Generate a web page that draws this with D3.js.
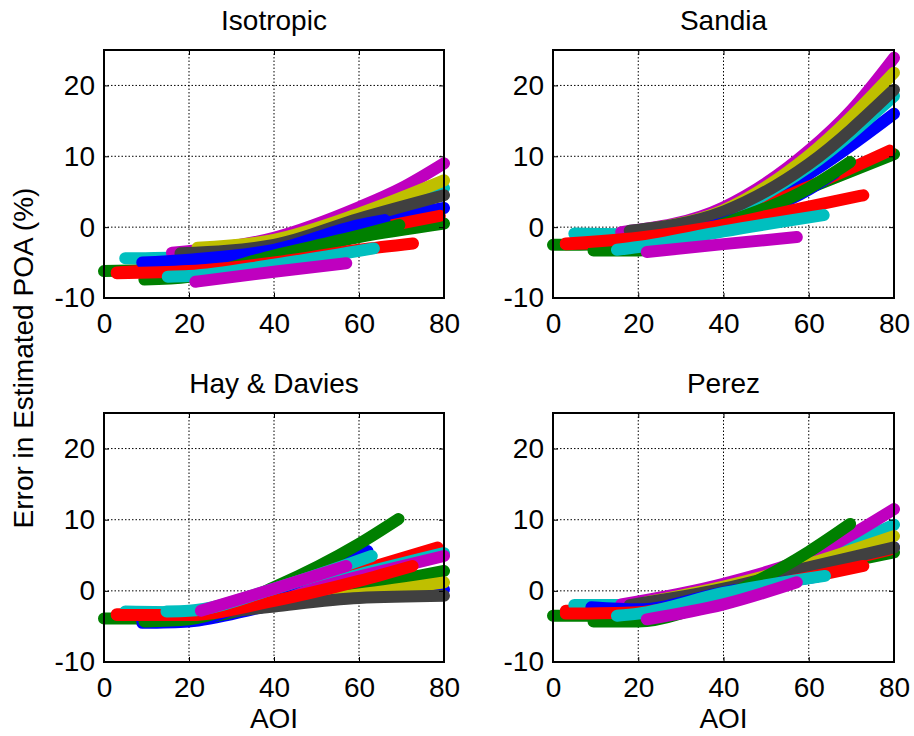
<!DOCTYPE html>
<html>
<head>
<meta charset="utf-8">
<script src="https://cdn.jsdelivr.net/npm/d3@7"></script>
<style>
  body { margin: 0; background: #fff; }
  text { font-family: "Liberation Sans", Arial, sans-serif; fill: #000; }
</style>
</head>
<body>
<svg id="chart"></svg>
<script>
const width = 914;
const height = 736;

// series colours (plot order), MATLAB-style colour cycle
const seriesColors = ['#0000ff', '#008000', '#ff0000', '#00bfbf', '#bf00bf', '#bfbf00', '#404040',
                      '#0000ff', '#008000', '#ff0000', '#00bfbf', '#bf00bf'];

const panelTitles = ['Isotropic', 'Sandia', 'Hay & Davies', 'Perez'];
const xTicks = [0, 20, 40, 60, 80];
const yTicks = [-10, 0, 10, 20];

// [AOI, error %] points, one array per series
const isotropic = [
  [[9, -5.0], [20, -4.6], [40, -3.2], [60, 0.3], [80, 2.7]],
  [[0, -6.2], [20, -5.8], [40, -4.0], [60, -1.4], [80, 0.5]],
  [[3, -6.4], [20, -5.6], [40, -3.6], [60, -0.7], [79, 1.6]],
  [[5, -4.4], [20, -4.2], [40, -2.6], [60, 1.5], [80, 5.5]],
  [[16, -3.6], [40, -1.5], [60, 2.8], [70, 5.5], [80, 9.0]],
  [[22, -2.9], [40, -1.8], [60, 1.9], [80, 6.6]],
  [[18, -3.7], [40, -2.5], [60, 1.2], [80, 4.5]],
  [[9, -5.0], [20, -4.6], [40, -3.2], [60, 0.3], [66, 1.0]],
  [[9.5, -7.4], [20, -7.0], [40, -4.0], [60, -1.2], [69.5, 0.3]],
  [[3, -6.5], [20, -6.2], [40, -5.0], [60, -3.2], [72.7, -2.3]],
  [[15, -7.0], [20, -6.9], [40, -5.3], [63.5, -3.0]],
  [[21.5, -7.7], [40, -6.3], [57, -5.1]]
];

const sandia = [
  [[9, -2.0], [20, -1.5], [40, 1.5], [60, 7.5], [80, 16.0]],
  [[0, -2.5], [20, -2.3], [40, 0.8], [60, 5.5], [80, 10.3]],
  [[3, -2.4], [20, -2.0], [40, 1.0], [60, 5.7], [79, 10.8]],
  [[5, -0.9], [20, -1.0], [40, 1.8], [60, 8.5], [80, 18.5]],
  [[16, -0.7], [40, 2.8], [60, 10.8], [70, 16.5], [80, 23.9]],
  [[22, -0.3], [40, 2.4], [60, 10.1], [80, 21.8]],
  [[18, -0.5], [40, 2.2], [60, 8.9], [80, 19.4]],
  [[9, -2.2], [20, -2.0], [40, 0.6], [60, 5.3], [66, 7.6]],
  [[9.5, -3.3], [20, -3.3], [40, 0.5], [60, 5.5], [69.7, 9.2]],
  [[3, -2.3], [20, -1.5], [40, 0.3], [60, 2.9], [72.8, 4.5]],
  [[15, -3.2], [20, -2.8], [40, -0.6], [63.5, 1.7]],
  [[22, -3.5], [40, -2.4], [57.2, -1.4]]
];

const hayDavies = [
  [[9, -4.5], [20, -4.3], [40, -2.0], [60, -0.7], [80, 0.2]],
  [[0, -3.9], [20, -3.9], [40, -1.6], [60, 0.5], [80, 2.8]],
  [[3, -3.3], [20, -3.3], [40, -1.0], [60, 2.8], [78.5, 6.1]],
  [[5, -2.9], [20, -3.0], [40, -1.0], [60, 2.3], [80, 5.3]],
  [[16, -3.2], [40, -1.1], [60, 2.0], [80, 4.9]],
  [[22, -3.3], [40, -1.8], [60, -0.5], [80, 1.2]],
  [[18, -3.8], [40, -2.2], [60, -1.0], [80, -0.7]],
  [[9, -4.3], [20, -4.2], [40, 0.0], [60, 5.0], [62, 5.6]],
  [[9.5, -4.3], [20, -4.0], [40, 0.5], [60, 6.6], [69.3, 10.1]],
  [[3, -3.4], [20, -3.4], [40, -1.4], [60, 1.4], [72.6, 3.5]],
  [[14.7, -2.9], [20, -2.8], [40, 0.3], [63, 4.9]],
  [[22.8, -2.8], [40, 0.3], [57, 3.5]]
];

const perez = [
  [[9, -3.0], [20, -2.4], [40, 0.2], [60, 3.2], [80, 6.1]],
  [[0, -3.5], [20, -3.5], [40, -0.5], [60, 2.8], [80, 5.4]],
  [[3, -2.8], [20, -2.8], [40, 0.0], [60, 3.0], [79, 5.8]],
  [[5, -2.0], [20, -2.0], [40, 0.5], [60, 4.2], [80, 9.3]],
  [[16, -1.9], [40, 1.0], [60, 4.8], [80, 11.5]],
  [[22, -1.6], [40, 0.6], [60, 3.8], [80, 7.7]],
  [[18, -2.0], [40, 0.3], [60, 3.3], [80, 6.1]],
  [[9, -2.3], [20, -2.6], [40, -0.2], [62, 2.0]],
  [[9.5, -4.3], [20, -4.3], [40, -0.8], [60, 5.5], [69.7, 9.4]],
  [[3, -3.2], [20, -3.0], [40, -0.5], [60, 1.9], [72.8, 3.5]],
  [[15, -3.5], [20, -3.2], [40, -0.3], [63.8, 2.1]],
  [[22, -4.0], [40, -1.9], [57.2, 1.2]]
];

const panelData = [isotropic, sandia, hayDavies, perez];

// frame boxes of the four axes
const boxes = [
  {x0: 104, x1: 444, y0: 50, y1: 298},
  {x0: 553, x1: 894, y0: 50, y1: 298},
  {x0: 104, x1: 444, y0: 413, y1: 662},
  {x0: 553, x1: 894, y0: 413, y1: 662}
];

const svg = d3.select('#chart').attr('width', width).attr('height', height);

const line = d3.line().curve(d3.curveMonotoneX);
const fontSize = '28px';

boxes.forEach((b, p) => {
  const x = d3.scaleLinear().domain([0, 80]).range([b.x0, b.x1]);
  const y = d3.scaleLinear().domain([-10, 25]).range([b.y1, b.y0]);
  const g = svg.append('g');

  // dotted grid
  g.selectAll('.vgrid').data(xTicks.slice(1, -1)).enter().append('line')
    .attr('x1', d => x(d)).attr('x2', d => x(d))
    .attr('y1', b.y0).attr('y2', b.y1)
    .attr('stroke', '#000').attr('stroke-width', 1).attr('stroke-dasharray', '1.5,2');
  g.selectAll('.hgrid').data(yTicks.slice(1)).enter().append('line')
    .attr('y1', d => y(d)).attr('y2', d => y(d))
    .attr('x1', b.x0).attr('x2', b.x1)
    .attr('stroke', '#000').attr('stroke-width', 1).attr('stroke-dasharray', '1.5,2');

  // data bands
  line.x(d => x(d[0])).y(d => y(d[1]));
  g.selectAll('.series').data(panelData[p]).enter().append('path')
    .attr('d', line)
    .attr('fill', 'none')
    .attr('stroke', (d, i) => seriesColors[i])
    .attr('stroke-width', 12)
    .attr('stroke-linecap', 'round')
    .attr('stroke-linejoin', 'round');

  // axes: inward ticks on all four sides
  const tl = 5;
  g.append('g').attr('transform', `translate(0,${b.y1})`)
    .call(d3.axisBottom(x).tickValues(xTicks).tickSize(-tl).tickPadding(15))
    .call(a => a.select('.domain').remove());
  g.append('g').attr('transform', `translate(0,${b.y0})`)
    .call(d3.axisTop(x).tickValues(xTicks).tickSize(-tl).tickFormat(''))
    .call(a => a.select('.domain').remove());
  g.append('g').attr('transform', `translate(${b.x0},0)`)
    .call(d3.axisLeft(y).tickValues(yTicks).tickSize(-tl).tickPadding(9).tickFormat(d => String(d)))
    .call(a => a.select('.domain').remove());
  g.append('g').attr('transform', `translate(${b.x1},0)`)
    .call(d3.axisRight(y).tickValues(yTicks).tickSize(-tl).tickFormat(''))
    .call(a => a.select('.domain').remove());

  g.selectAll('.tick line').attr('stroke', '#000').attr('stroke-width', 1);
  g.selectAll('.tick text')
    .style('font-family', '"Liberation Sans", Arial, sans-serif')
    .style('font-size', fontSize).attr('fill', '#000');

  g.append('rect')
    .attr('x', b.x0).attr('y', b.y0)
    .attr('width', b.x1 - b.x0).attr('height', b.y1 - b.y0)
    .attr('fill', 'none').attr('stroke', '#000').attr('stroke-width', 2);

  g.append('text')
    .attr('x', (b.x0 + b.x1) / 2).attr('y', b.y0 - 20)
    .attr('text-anchor', 'middle')
    .style('font-size', fontSize)
    .text(panelTitles[p]);

  if (p >= 2) {
    g.append('text')
      .attr('x', (b.x0 + b.x1) / 2).attr('y', 728)
      .attr('text-anchor', 'middle')
      .style('font-size', fontSize)
      .text('AOI');
  }
});

svg.append('text')
  .attr('transform', 'translate(33,358) rotate(-90)')
  .attr('text-anchor', 'middle')
  .style('font-size', fontSize)
  .text('Error in Estimated POA (%)');
</script>
</body>
</html>
